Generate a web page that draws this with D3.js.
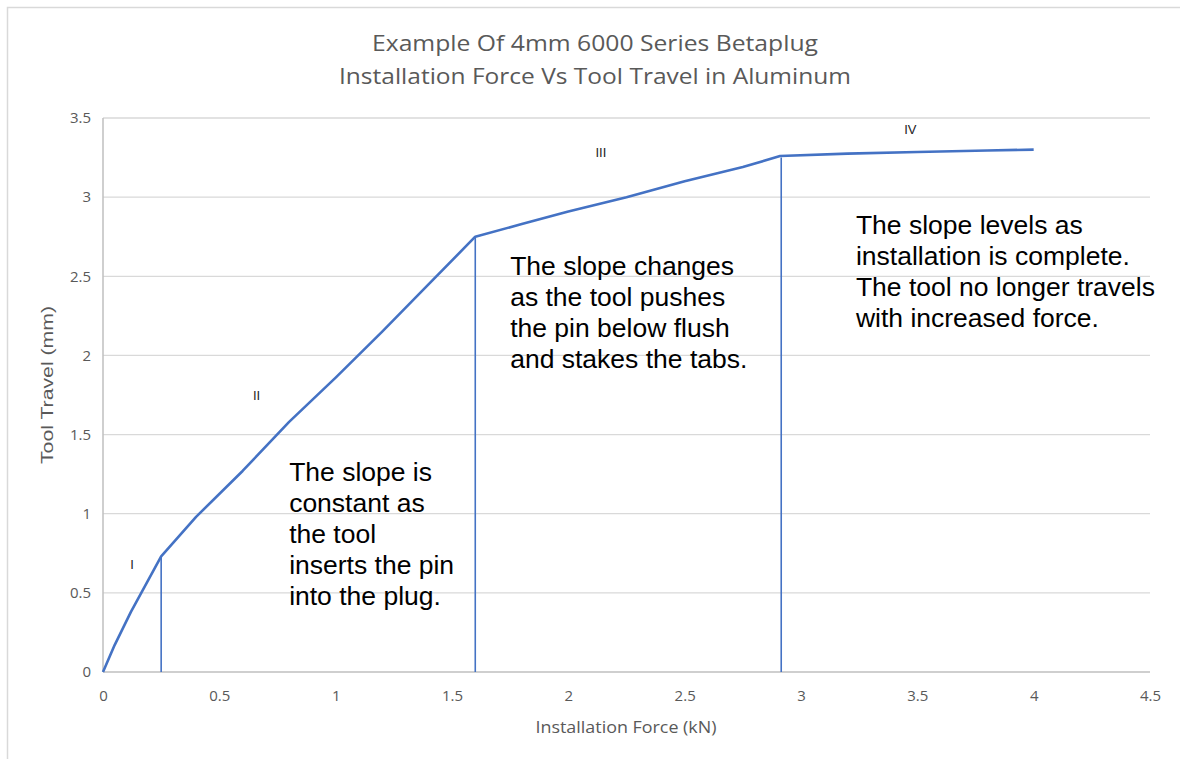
<!DOCTYPE html>
<html>
<head>
<meta charset="utf-8">
<script src="https://cdn.jsdelivr.net/npm/d3@7"></script>
<style>
  body { margin: 0; background: #fff; }
  svg { display: block; }
</style>
</head>
<body>
<svg width="1180" height="759"></svg>
<script>
// force (kN) vs tool travel (mm)
const force = [0, 0.05, 0.12, 0.25, 0.4, 0.6, 0.8, 1.0, 1.2, 1.4, 1.6, 1.8, 2.0, 2.25, 2.5, 2.75, 2.91, 3.2, 3.5, 3.8, 4.0],
  travel = [0, 0.17, 0.38, 0.73, 0.98, 1.27, 1.58, 1.86, 2.15, 2.45, 2.75, 2.83, 2.91, 3.0, 3.1, 3.19, 3.26, 3.275, 3.285, 3.295, 3.3]
// vertical markers: [force, top travel]
const markers = [[0.25, 0.73], [1.6, 2.75], [2.915, 3.25]]
const stages = [['I', 0.125, 0.68], ['II', 0.66, 1.75], ['III', 2.14, 3.28], ['IV', 3.47, 3.43]]
const notes = [
  { x: 0.8, y: 1.207, lines: ['The slope is', 'constant as', 'the tool', 'inserts the pin', 'into the plug.'] },
  { x: 1.75, y: 2.508, lines: ['The slope changes', 'as the tool pushes', 'the pin below flush', 'and stakes the tabs.'] },
  { x: 3.236, y: 2.767, lines: ['The slope levels as', 'installation is complete.', 'The tool no longer travels', 'with increased force.'] }
]
const xTicks = [0, 0.5, 1, 1.5, 2, 2.5, 3, 3.5, 4, 4.5],
  yTicks = [0, 0.5, 1, 1.5, 2, 2.5, 3, 3.5]
const titleLines = ['Example Of 4mm 6000 Series Betaplug', 'Installation Force Vs Tool Travel in Aluminum']

const svg = d3.select('svg'),
  blue = '#4472c4',
  gray = '#595959',
  x = d3.scaleLinear().domain([0, 4.5]).range([103, 1150]),
  y = d3.scaleLinear().domain([0, 3.5]).range([672, 118])

// chart frame
svg.append('rect')
  .attr('x', 7.5).attr('y', 7.5).attr('width', 1200).attr('height', 800)
  .attr('fill', '#fff').attr('stroke', '#d9d9d9').attr('stroke-width', 1.5)

// title
svg.selectAll('.title')
  .data(titleLines)
  .join('text')
  .attr('class', 'title')
  .attr('x', 595)
  .attr('y', (d, i) => 51 + i * 33)
  .attr('text-anchor', 'middle')
  .attr('font-family', 'Open Sans, sans-serif')
  .attr('font-size', 22)
  .attr('fill', gray)
  .attr('textLength', (d, i) => i ? 512 : 446)
  .attr('lengthAdjust', 'spacingAndGlyphs')
  .text(d => d)

// grid
svg.append('g')
  .selectAll('line')
  .data(yTicks.slice(1))
  .join('line')
  .attr('x1', x(0)).attr('x2', x(4.5))
  .attr('y1', d => y(d)).attr('y2', d => y(d))
  .attr('stroke', '#d9d9d9').attr('stroke-width', 1.3)

// axis lines
svg.append('line')
  .attr('x1', x(0)).attr('x2', x(4.5)).attr('y1', y(0)).attr('y2', y(0))
  .attr('stroke', '#bfbfbf').attr('stroke-width', 1.5)
svg.append('line')
  .attr('x1', x(0)).attr('x2', x(0)).attr('y1', y(0)).attr('y2', y(3.5))
  .attr('stroke', '#bfbfbf').attr('stroke-width', 1.5)

// ticks
const axisX = d3.axisBottom(x).tickValues(xTicks).tickSize(0).tickPadding(18).tickFormat(d3.format('~g'))
const axisY = d3.axisLeft(y).tickValues(yTicks).tickSize(0).tickPadding(12).tickFormat(d3.format('~g'))
svg.append('g').attr('transform', `translate(0,${y(0)})`).call(axisX)
  .call(g => g.select('.domain').remove())
svg.append('g').attr('transform', `translate(${x(0)},0)`).call(axisY)
  .call(g => g.select('.domain').remove())
svg.selectAll('.tick text')
  .attr('font-family', 'Open Sans, sans-serif')
  .attr('font-size', 15)
  .attr('fill', gray)

// axis titles
svg.append('text')
  .attr('x', 626).attr('y', 733)
  .attr('text-anchor', 'middle')
  .attr('font-family', 'Open Sans, sans-serif')
  .attr('font-size', 16.5)
  .attr('fill', gray)
  .attr('textLength', 181)
  .attr('lengthAdjust', 'spacingAndGlyphs')
  .text('Installation Force (kN)')
svg.append('text')
  .attr('transform', 'translate(53,385) rotate(-90)')
  .attr('text-anchor', 'middle')
  .attr('font-family', 'Liberation Sans, Arial, sans-serif')
  .attr('font-size', 16.5)
  .attr('fill', gray)
  .attr('textLength', 158)
  .attr('lengthAdjust', 'spacingAndGlyphs')
  .text('Tool Travel (mm)')

// markers
svg.append('g')
  .selectAll('line')
  .data(markers)
  .join('line')
  .attr('x1', d => x(d[0])).attr('x2', d => x(d[0]))
  .attr('y1', d => y(d[1])).attr('y2', y(0))
  .attr('stroke', blue).attr('stroke-width', 1.6)

// curve
const line = d3.line()
  .x(d => x(d[0]))
  .y(d => y(d[1]))
svg.append('path')
  .attr('d', line(d3.zip(force, travel)))
  .attr('fill', 'none')
  .attr('stroke', blue)
  .attr('stroke-width', 2.6)
  .attr('stroke-linejoin', 'round')

// stage labels
svg.selectAll('.stage')
  .data(stages)
  .join('text')
  .attr('class', 'stage')
  .attr('x', d => x(d[1]))
  .attr('y', d => y(d[2]))
  .attr('dy', '0.35em')
  .attr('text-anchor', 'middle')
  .attr('font-family', 'Liberation Sans, Arial, sans-serif')
  .attr('font-size', 13)
  .attr('fill', '#222')
  .text(d => d[0])

// notes
notes.forEach(n => {
  svg.append('text')
    .attr('font-family', 'Liberation Sans, Arial, sans-serif')
    .attr('font-size', 26.5)
    .attr('fill', '#000')
    .selectAll('tspan')
    .data(n.lines)
    .join('tspan')
    .attr('x', x(n.x))
    .attr('y', (d, i) => y(n.y) + i * 31)
    .text(d => d)
})
</script>
</body>
</html>
